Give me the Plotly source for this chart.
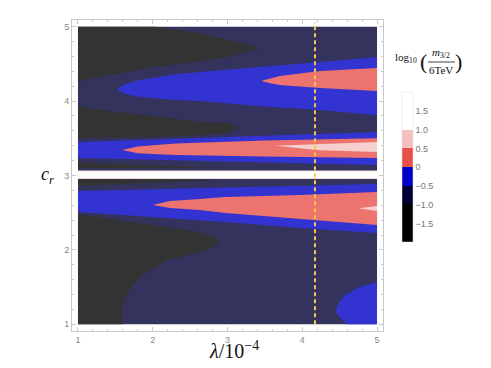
import plotly.graph_objects as go

# --- region boundaries (lambda/1e-4, c_r) ---
# navy background covers the whole data box
navy_lam = [1, 5, 5, 1]
navy_c = [1, 1, 5, 5]

# black regions (lowest level)
black1_lam = [1.00, 2.03, 2.63, 3.03, 3.30, 3.44, 3.30, 3.03, 2.63, 2.03, 1.43, 1.00]
black1_c = [5.00, 5.00, 4.915, 4.82, 4.75, 4.71, 4.67, 4.60, 4.53, 4.46, 4.35, 4.26]

black2_lam = [1.00, 1.56, 2.10, 2.63, 2.97, 3.17, 2.97, 2.63, 2.10, 1.00]
black2_c = [3.925, 3.85, 3.79, 3.72, 3.71, 3.64, 3.57, 3.54, 3.52, 3.50]

black3_lam = [1.00, 1.96, 2.94, 1.00]
black3_c = [3.17, 3.135, 3.10, 3.10]

black4_lam = [1.00, 2.93, 1.96, 1.00]
black4_c = [2.953, 2.94, 2.90, 2.86]

black5_lam = [1.00, 1.74, 2.19, 2.63, 2.83, 2.89, 2.83, 2.63, 2.19, 1.83, 1.66, 1.59, 1.60, 1.00]
black5_c = [2.48, 2.375, 2.31, 2.24, 2.17, 2.12, 2.05, 1.97, 1.86, 1.64, 1.42, 1.23, 1.00, 1.00]

# blue regions
blue1_lam = [1.52, 1.63, 1.83, 2.30, 2.63, 3.44, 4.24, 5.00, 5.00, 4.24, 3.44, 2.63, 2.30, 1.83, 1.63]
blue1_c = [4.16, 4.23, 4.284, 4.36, 4.39, 4.46, 4.53, 4.59, 3.81, 3.88, 3.93, 4.00, 4.015, 4.055, 4.095]

blue2_lam = [1.00, 3.00, 5.00, 5.00, 3.00, 1.00]
blue2_c = [3.45, 3.52, 3.585, 3.14, 3.19, 3.235]

blue3_lam = [1.00, 3.00, 5.00, 5.00, 3.97, 2.97, 1.00]
blue3_c = [2.79, 2.84, 2.886, 2.227, 2.294, 2.375, 2.509]

blue4_lam = [5.00, 4.77, 4.57, 4.47, 4.45, 4.51, 4.60, 5.00]
blue4_c = [1.57, 1.50, 1.39, 1.26, 1.165, 1.085, 1.00, 1.00]

# salmon regions (0 .. 0.5)
red1_lam = [3.45, 3.57, 3.70, 4.24, 5.00, 5.00, 4.24, 3.70, 3.57]
red1_c = [4.27, 4.30, 4.337, 4.405, 4.445, 4.136, 4.176, 4.216, 4.24]

red2_lam = [1.59, 1.80, 2.30, 3.50, 5.00, 5.00, 3.50, 2.30, 1.80]
red2_c = [3.343, 3.39, 3.43, 3.47, 3.50, 3.235, 3.255, 3.275, 3.30]

red3_lam = [2.00, 2.23, 2.63, 2.97, 3.97, 5.00, 5.00, 3.97, 2.97, 2.63, 2.23]
red3_c = [2.603, 2.656, 2.684, 2.711, 2.738, 2.778, 2.335, 2.415, 2.496, 2.536, 2.563]

# pink regions (0.5 .. 1.0)
pink1_lam = [3.635, 4.24, 5.00, 5.00, 4.24]
pink1_c = [3.40, 3.425, 3.45, 3.316, 3.34]

pink2_lam = [4.75, 5.00, 5.00]
pink2_c = [2.56, 2.59, 2.523]

# thin line near c_r = 3
line_pink_lam = [1, 5, 5, 1]
line_pink_c = [2.952, 2.952, 3.068, 3.068]
line_white_lam = [1, 5, 5, 1]
line_white_c = [2.962, 2.962, 3.056, 3.056]

lam_mark = 4.17

cbar_vals = [-1.5, -1.0, -0.5, 0, 0.5, 1.0, 1.5]
cbar_text = ["\u22121.5", "\u22121.0", "\u22120.5", "0", "0.5", "1.0", "1.5"]

# colours
c_black = "#333333"
c_navy = "#33335e"
c_blue = "#3333d2"
c_red = "#ed736e"
c_pink = "#f6cfcf"
c_white = "#ffffff"

fig = go.Figure()


def region(lam, c, col):
    fig.add_trace(go.Scatter(
        x=lam, y=c, mode="lines", fill="toself", fillcolor=col,
        line=dict(width=0, color=col), hoverinfo="skip", showlegend=False
    ))


region(navy_lam, navy_c, c_navy)
for lam, c in [(black1_lam, black1_c), (black2_lam, black2_c), (black3_lam, black3_c),
               (black4_lam, black4_c), (black5_lam, black5_c)]:
    region(lam, c, c_black)
for lam, c in [(blue1_lam, blue1_c), (blue2_lam, blue2_c), (blue3_lam, blue3_c),
               (blue4_lam, blue4_c)]:
    region(lam, c, c_blue)
for lam, c in [(red1_lam, red1_c), (red2_lam, red2_c), (red3_lam, red3_c)]:
    region(lam, c, c_red)
for lam, c in [(pink1_lam, pink1_c), (pink2_lam, pink2_c), (line_pink_lam, line_pink_c)]:
    region(lam, c, c_pink)
region(line_white_lam, line_white_c, c_white)

# colour bar (discrete levels)
cs = [[0, "#000000"], [0.25, "#000000"], [0.25, "#000035"], [0.375, "#000035"],
      [0.375, "#0000c8"], [0.5, "#0000c8"], [0.5, "#e8504a"], [0.625, "#e8504a"],
      [0.625, "#f4c0c0"], [0.75, "#f4c0c0"], [0.75, "#ffffff"], [1, "#ffffff"]]
fig.add_trace(go.Scatter(
    x=[None], y=[None], mode="markers", showlegend=False, hoverinfo="skip",
    marker=dict(color=[0], cmin=-2, cmax=2, colorscale=cs, showscale=True,
                colorbar=dict(x=1.061, xanchor="left", y=0.527, yanchor="middle",
                              len=150, lenmode="pixels", thickness=11,
                              xpad=0, ypad=0, outlinewidth=0.5, outlinecolor="#dddddd",
                              tickvals=cbar_vals, ticktext=cbar_text, ticks="",
                              tickfont=dict(size=9, color="#777777",
                                            family="Liberation Sans")))
))

# vertical dashed marker
fig.add_shape(type="line", x0=lam_mark, x1=lam_mark, y0=1, y1=5.06,
              line=dict(color="#f0c850", width=2, dash="4px,3px"))


# page body has an 8px margin, so screen px -> paper: subtract 8 + left margin 64
def px(x):
    return (x - 72) / 311


def py(y):
    return (331 - y) / 311


serif = "Liberation Serif"
anns = [
    dict(x=px(234), y=py(350), text="<i>λ</i>/10<sup>\u22124</sup>", size=20),
    dict(x=px(47), y=py(175), text="<i>c<sub>r</sub></i>", size=18),
    dict(x=px(406), y=py(58), text="log<sub>10</sub>", size=11),
    dict(x=px(423), y=py(61), text="(", size=22),
    dict(x=px(458), y=py(61), text=")", size=22),
    dict(x=px(441), y=py(53), text="<i>m</i><sub>3/2</sub>", size=11),
    dict(x=px(441), y=py(70), text="6TeV", size=11),
]
for a in anns:
    fig.add_annotation(x=a["x"], y=a["y"], xref="paper", yref="paper", text=a["text"],
                       showarrow=False, xanchor="center", yanchor="middle",
                       font=dict(family=serif, size=a["size"], color="#111111"))
fig.add_shape(type="line", xref="paper", yref="paper", x0=px(428), x1=px(455),
              y0=py(62), y1=py(62), line=dict(color="#111111", width=0.8))

axis_style = dict(
    showgrid=False, zeroline=False, showline=True, linecolor="#c8c8c8", linewidth=1,
    mirror="ticks", ticks="inside", ticklen=4, tickcolor="#c8c8c8",
    tickmode="linear", tick0=1, dtick=1,
    minor=dict(ticks="inside", ticklen=2, tickcolor="#c8c8c8", tick0=1, dtick=0.2),
    tickfont=dict(size=9, color="#888888", family="Liberation Sans"),
)

fig.update_layout(
    width=483, height=360, autosize=False,
    margin=dict(l=64, r=108, t=12, b=37),
    plot_bgcolor="white", paper_bgcolor="white",
    xaxis=dict(range=[0.92, 5.08], **axis_style),
    yaxis=dict(range=[0.91, 5.09], **axis_style),
)

fig.write_html("out.html")
